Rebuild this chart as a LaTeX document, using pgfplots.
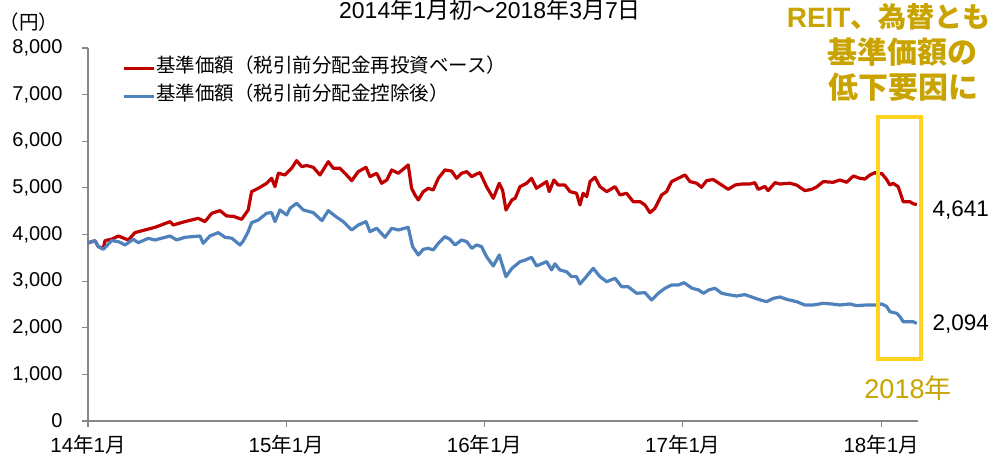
\documentclass[border=0pt]{standalone}
\usepackage{fontspec}
\setmainfont{Liberation Sans}
\newfontfamily\J{Noto Sans CJK JP}
\usepackage{pgfplots}
\pgfplotsset{compat=1.18}
\definecolor{redline}{HTML}{C00000}
\definecolor{blueline}{HTML}{4F81BD}
\definecolor{gold}{HTML}{C9A300}
\definecolor{ybox}{HTML}{FFD320}
\definecolor{axisgray}{HTML}{868686}

\pgfplotstableread{
t v
0.000 3820
0.035 3868
0.052 3740
0.077 3700
0.086 3868
0.120 3900
0.153 3968
0.203 3882
0.237 4040
0.287 4097
0.338 4154
0.414 4276
0.430 4204
0.489 4276
0.556 4347
0.590 4276
0.624 4455
0.666 4512
0.699 4397
0.733 4390
0.775 4326
0.808 4526
0.825 4919
0.859 4991
0.901 5098
0.926 5206
0.943 5026
0.960 5313
0.993 5277
1.027 5420
1.052 5584
1.078 5455
1.103 5480
1.136 5441
1.170 5277
1.212 5562
1.237 5420
1.271 5420
1.296 5313
1.330 5155
1.363 5348
1.402 5441
1.422 5241
1.456 5313
1.481 5098
1.507 5169
1.532 5384
1.565 5313
1.615 5491
1.632 4991
1.649 4848
1.666 4741
1.691 4919
1.716 4990
1.741 4955
1.767 5206
1.800 5384
1.834 5360
1.859 5206
1.884 5313
1.910 5348
1.935 5241
1.960 5298
1.977 5327
2.010 5026
2.044 4776
2.074 5098
2.091 4950
2.108 4526
2.138 4741
2.154 4776
2.179 5026
2.212 5098
2.237 5206
2.262 4991
2.287 5062
2.313 5134
2.326 4919
2.350 5169
2.371 5062
2.405 5062
2.431 4919
2.464 4884
2.481 4633
2.497 4884
2.515 4812
2.532 5134
2.557 5227
2.582 5026
2.616 4919
2.658 5026
2.683 4848
2.716 4884
2.750 4704
2.784 4704
2.809 4633
2.834 4469
2.859 4560
2.893 4848
2.918 4920
2.943 5134
2.977 5206
3.011 5277
3.036 5134
3.070 5100
3.094 5012
3.120 5155
3.153 5180
3.178 5110
3.203 5041
3.229 4969
3.263 5060
3.296 5083
3.338 5083
3.363 5110
3.380 4969
3.414 5030
3.430 4940
3.465 5112
3.490 5083
3.540 5100
3.574 5060
3.615 4941
3.650 4969
3.675 5020
3.708 5134
3.758 5120
3.792 5169
3.826 5120
3.860 5255
3.893 5205
3.918 5190
3.944 5277
3.969 5327
3.985 5290
4.002 5313
4.027 5184
4.044 5062
4.060 5098
4.086 5026
4.103 4812
4.111 4704
4.145 4704
4.161 4660
4.180 4641
}\redtable

\pgfplotstableread{
t v
0.000 3820
0.035 3868
0.052 3740
0.077 3683
0.120 3868
0.153 3847
0.187 3775
0.228 3897
0.254 3825
0.304 3918
0.338 3882
0.414 3968
0.447 3882
0.489 3940
0.565 3968
0.581 3811
0.615 3968
0.657 4040
0.691 3940
0.725 3920
0.767 3775
0.783 3860
0.808 4061
0.825 4254
0.859 4311
0.901 4455
0.926 4470
0.943 4276
0.968 4526
1.002 4419
1.019 4562
1.052 4669
1.086 4526
1.136 4469
1.180 4297
1.212 4512
1.246 4397
1.287 4276
1.330 4097
1.363 4204
1.402 4276
1.422 4061
1.456 4133
1.498 3940
1.532 4133
1.565 4097
1.615 4154
1.637 3740
1.666 3561
1.691 3683
1.716 3704
1.741 3668
1.767 3811
1.800 3954
1.825 3897
1.851 3775
1.884 3882
1.910 3847
1.935 3704
1.960 3775
1.985 3740
2.010 3525
2.044 3325
2.074 3561
2.108 3096
2.138 3275
2.179 3418
2.204 3450
2.237 3511
2.262 3325
2.313 3418
2.338 3240
2.355 3370
2.380 3239
2.414 3200
2.439 3096
2.464 3096
2.481 2939
2.506 3060
2.548 3275
2.582 3096
2.616 2988
2.658 3061
2.691 2881
2.724 2881
2.767 2739
2.809 2753
2.842 2595
2.876 2739
2.910 2846
2.943 2917
2.977 2917
3.006 2966
3.047 2846
3.080 2810
3.105 2739
3.130 2810
3.162 2846
3.196 2739
3.229 2710
3.271 2681
3.313 2710
3.347 2660
3.380 2610
3.422 2559
3.456 2630
3.490 2660
3.523 2610
3.574 2559
3.615 2488
3.657 2488
3.708 2524
3.750 2510
3.792 2488
3.842 2510
3.876 2474
3.926 2488
3.976 2488
4.002 2510
4.027 2460
4.044 2345
4.078 2310
4.095 2237
4.111 2130
4.136 2130
4.161 2130
4.180 2094
}\bluetable

\begin{document}
\begin{tikzpicture}[x=1pt,y=1pt]
\useasboundingbox (0,0) rectangle (991,457);
\begin{axis}[
  at={(88pt,36pt)}, anchor=south west,
  scale only axis, width=830pt, height=373pt,
  xmin=0, xmax=4.186, ymin=0, ymax=8000,
  clip=false,
  axis x line*=bottom, axis y line*=left,
  axis line style={axisgray, line width=1.2pt, -},
  tick style={axisgray, line width=1.2pt},
  major tick length=6pt, tick align=outside,
  xtick={0,1,2,3,4},
  xticklabels={14{\J 年}1{\J 月},15{\J 年}1{\J 月},16{\J 年}1{\J 月},17{\J 年}1{\J 月},18{\J 年}1{\J 月}},
  ytick={0,1000,...,8000},
  tick label style={font=\fontsize{20}{20}\selectfont, text=black},
  xticklabel style={font=\fontsize{20.5}{20}\selectfont, yshift=-5pt},
  yticklabel style={xshift=-16pt, /pgf/number format/.cd, 1000 sep={,}, assume math mode=true},
  legend style={at={(0.041,0.972)}, anchor=north west, draw=none, fill=none,
    inner sep=0pt, row sep=9.3pt, column sep=1pt,
    font=\J\fontsize{19.5}{20}\selectfont,
    nodes={inner sep=0pt, text height=14pt, text depth=5pt}},
  legend cell align=left,
  legend image code/.code={\draw[#1] (0pt,0pt) -- (30pt,0pt);},
]
\addplot[redline, line width=3.2pt, line join=round] table[x=t,y=v]{\redtable};
\addlegendentry{基準価額（税引前分配金再投資ベース）}
\addplot[blueline, line width=3.2pt, line join=round] table[x=t,y=v]{\bluetable};
\addlegendentry{基準価額（税引前分配金控除後）}
\end{axis}
% annotations
\node[font=\fontsize{23}{23}\selectfont] at (490,447) {2014{\J 年}1{\J 月初～}2018{\J 年}3{\J 月}7{\J 日}};
\node[font=\J\fontsize{19.5}{20}\selectfont] at (29,435) {（円）};
\node[font=\fontsize{22.5}{23}\selectfont, anchor=west] at (929,247) {4,641};
\node[font=\fontsize{22.5}{23}\selectfont, anchor=west] at (929,133) {2,094};
\draw[ybox, line width=4pt] (878,98) rectangle (921,340);
\node[font=\fontsize{27}{27}\selectfont, text=gold] at (908,69) {2018{\J 年}};
\node[font=\bfseries\fontsize{28}{28}\selectfont, text=gold] at (888.7,440) {REIT{\J 、為替とも}};
\node[font=\bfseries\J\fontsize{30}{30}\selectfont, text=gold] at (902.5,405) {基準価額の};
\node[font=\bfseries\J\fontsize{30}{30}\selectfont, text=gold] at (903.3,370) {低下要因に};
\end{tikzpicture}
\end{document}
